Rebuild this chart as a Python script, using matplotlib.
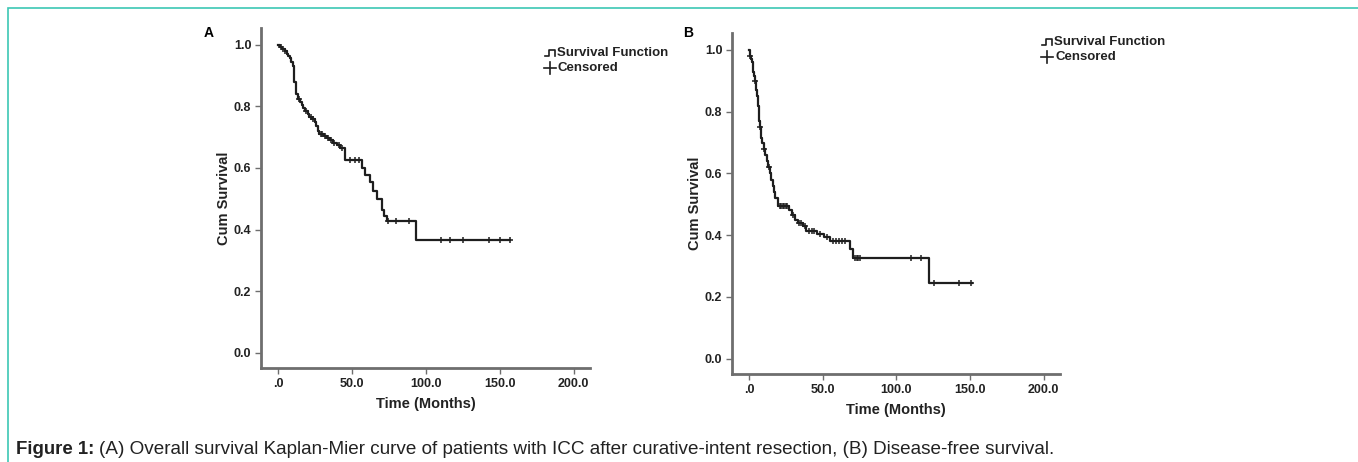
import matplotlib
matplotlib.use('Agg')
import matplotlib.pyplot as plt
import numpy as np
from matplotlib.lines import Line2D
from matplotlib.patches import Rectangle

plt.rcParams['font.family'] = ['Liberation Sans', 'DejaVu Sans']

# (A) overall survival: step times and survival after each step
os_time = [0, 1.5, 3, 4.5, 6, 7, 8, 9, 10, 10.5, 11, 12, 12.5, 13.5, 15, 16, 17,
           18.5, 20, 21, 23, 25, 26, 27, 28, 31, 33, 35, 37, 40, 42, 45, 57, 59,
           62, 64.5, 67, 70, 72, 74, 93]
os_surv = [1.0, 0.993, 0.986, 0.979, 0.972, 0.965, 0.958, 0.944, 0.93, 0.90, 0.88,
           0.86, 0.84, 0.825, 0.815, 0.805, 0.795, 0.785, 0.775, 0.765, 0.76, 0.75,
           0.735, 0.72, 0.71, 0.705, 0.698, 0.69, 0.68, 0.675, 0.665, 0.627, 0.60,
           0.578, 0.553, 0.525, 0.50, 0.465, 0.445, 0.427, 0.365]
os_end = 157
os_cens = [2, 5, 14, 19, 22, 24, 29, 30, 32, 34, 36, 38, 41, 43, 48.6, 52, 54.7,
           74.5, 80, 88.5, 110, 116, 125, 142.5, 150, 157]

# (B) disease-free survival
dfs_time = [0, 0.5, 1, 1.5, 2, 2.5, 3, 3.5, 4, 4.5, 5, 5.5, 6, 6.5, 7, 7.5, 8, 8.5,
            9, 10, 11, 12, 13, 14, 15, 16, 17, 18, 19.5, 20, 27.5, 29, 31, 33, 37,
            39, 46, 51, 55, 68.5, 70.5, 122]
dfs_surv = [1.0, 0.99, 0.98, 0.97, 0.96, 0.945, 0.93, 0.915, 0.90, 0.885, 0.87,
            0.85, 0.82, 0.79, 0.77, 0.75, 0.73, 0.715, 0.70, 0.68, 0.66, 0.64, 0.62,
            0.60, 0.58, 0.56, 0.54, 0.52, 0.50, 0.493, 0.48, 0.465, 0.45, 0.44,
            0.43, 0.415, 0.405, 0.395, 0.38, 0.355, 0.325, 0.244]
dfs_end = 151
dfs_cens = [1, 4, 7.5, 10.5, 13.5, 21, 22, 23, 24, 25, 26, 30, 34, 35, 38, 41, 43,
            44, 48, 53, 57, 59, 61, 63, 65, 72, 73, 74, 75, 110, 117, 125.7, 142.6,
            150.7]

x_ticks = [0, 50, 100, 150, 200]
x_labels = ['.0', '50.0', '100.0', '150.0', '200.0']
y_ticks = [0.0, 0.2, 0.4, 0.6, 0.8, 1.0]
y_labels = ['0.0', '0.2', '0.4', '0.6', '0.8', '1.0']

W, H = 1358, 462
CURVE = '#1e1e1e'
AXC = '#6e6e6e'


def px(x, y):
    return x / W, 1 - y / H


def step_value(times, surv, t):
    i = np.searchsorted(times, t, side='right') - 1
    return surv[max(i, 0)]


def draw_km(ax, times, surv, end, cens):
    xs = list(times) + [end]
    ys = list(surv) + [surv[-1]]
    ax.step(xs, ys, where='post', color=CURVE, lw=1.6)
    cy = [step_value(times, surv, c) for c in cens]
    ax.plot(cens, cy, ls='none', marker='+', ms=4, mew=1.1, color=CURVE)
    ax.set_xlim(-11.5, 211)
    ax.set_ylim(-0.05, 1.055)
    ax.set_xticks(x_ticks)
    ax.set_xticklabels(x_labels)
    ax.set_yticks(y_ticks)
    ax.set_yticklabels(y_labels)
    for s in ['top', 'right']:
        ax.spines[s].set_visible(False)
    for s in ['left', 'bottom']:
        ax.spines[s].set_color(AXC)
        ax.spines[s].set_linewidth(2)
    ax.tick_params(length=4, width=1, color=AXC, labelsize=9, pad=3)
    for lb in ax.get_xticklabels() + ax.get_yticklabels():
        lb.set_fontweight('bold')
        lb.set_color('#222222')
    ax.set_xlabel('Time (Months)', fontsize=10.5, fontweight='bold', color='#222222', labelpad=5)
    ax.set_ylabel('Cum Survival', fontsize=10.5, fontweight='bold', color='#222222', labelpad=2)


def draw_legend(fig, x0, y0):
    # small step glyph + cross glyph, then labels
    gx = [x0, x0 + 4, x0 + 4, x0 + 10, x0 + 10]
    gy = [y0 + 3, y0 + 3, y0 - 3, y0 - 3, y0 + 3]
    pts = [px(a, b) for a, b in zip(gx, gy)]
    fig.add_artist(Line2D([p[0] for p in pts], [p[1] for p in pts], color=CURVE, lw=1.2))
    cx, cy = px(x0 + 5, y0 + 15)
    fig.add_artist(Line2D([cx - 6 / W, cx + 6 / W], [cy, cy], color=CURVE, lw=1.2))
    fig.add_artist(Line2D([cx, cx], [cy - 6 / H, cy + 6 / H], color=CURVE, lw=1.2))
    fig.text(*px(x0 + 12, y0), 'Survival Function', fontsize=9.5, fontweight='bold',
             color='#222222', va='center', ha='left')
    fig.text(*px(x0 + 13, y0 + 15), 'Censored', fontsize=9.5, fontweight='bold',
             color='#222222', va='center', ha='left')


fig = plt.figure(figsize=(W / 100, H / 100), dpi=100, facecolor='white')

ax1 = fig.add_axes([261 / W, 1 - 368 / H, 329 / W, 340 / H])
draw_km(ax1, os_time, os_surv, os_end, os_cens)
ax2 = fig.add_axes([732 / W, 1 - 374 / H, 328 / W, 341 / H])
draw_km(ax2, dfs_time, dfs_surv, dfs_end, dfs_cens)

fig.text(*px(209, 33), 'A', fontsize=10, fontweight='bold', ha='center', va='center')
fig.text(*px(688, 33), 'B', fontsize=10, fontweight='bold', ha='center', va='center')

draw_legend(fig, 545, 53)
draw_legend(fig, 1042, 42)

# teal frame (top and left edges visible)
fig.add_artist(Rectangle(px(8, 475), (W + 10) / W, (475 - 8) / H, fill=False,
                         edgecolor='#3cc7b4', lw=1.2, transform=fig.transFigure))

# caption: bold lead-in, then the rest right after it
cap_bold = fig.text(*px(16, 449), 'Figure 1:', fontsize=13.4, fontweight='bold',
                    color='#222222', va='center', ha='left')
r = fig.canvas.get_renderer()
bb = cap_bold.get_window_extent(renderer=r)
fig.text(bb.x1 / W + 5 / W, 1 - 449 / H,
         '(A) Overall survival Kaplan-Mier curve of patients with ICC after '
         'curative-intent resection, (B) Disease-free survival.', fontsize=13.6,
         color='#222222', va='center', ha='left')

plt.savefig('out.png', dpi=100)
plt.close()
